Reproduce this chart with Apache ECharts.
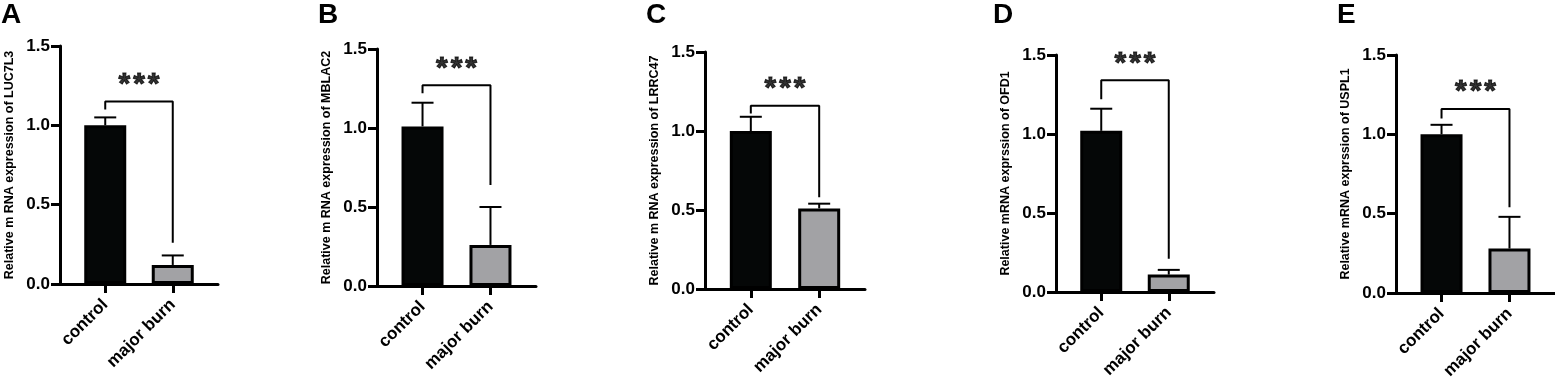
<!DOCTYPE html>
<html>
<head>
<meta charset="utf-8">
<script src="https://cdn.jsdelivr.net/npm/echarts@6/dist/echarts.min.js"></script>
<style>
  html, body { margin: 0; padding: 0; background: #fff; }
  #main { width: 1555px; height: 384px; }
</style>
</head>
<body>
<div id="main"></div>
<script>
// data
const panelLetters = ['A', 'B', 'C', 'D', 'E']
const yNames = [
  'Relative m RNA expression of LUC7L3',
  'Relative m RNA expression of MBLAC2',
  'Relative m RNA expression of LRRC47',
  'Relative mRNA exprssion of OFD1',
  'Relative mRNA exprssion of USPL1'
]
const categories = ['control', 'major burn']
const controlMean = [1.00, 1.01, 1.00, 1.02, 1.00]
const controlErr = [0.05, 0.15, 0.09, 0.14, 0.06]
const burnMean = [0.12, 0.26, 0.51, 0.11, 0.28]
const burnErr = [0.06, 0.24, 0.03, 0.03, 0.20]
const bracketTop = [1.15, 1.27, 1.16, 1.34, 1.16]
const bracketLeft = [1.10, 1.22, 1.11, 1.22, 1.10]
const bracketRight = [0.26, 0.64, 0.58, 0.21, 0.54]
const sigLabel = '***'
const yTicks = [0, 0.5, 1.0, 1.5]

// layout of each panel (px)
const grids = [
  { left: 60, top: 46, width: 158, height: 238, letterX: 1 },
  { left: 377, top: 49, width: 159, height: 237, letterX: 318 },
  { left: 705, top: 52, width: 160, height: 237, letterX: 646 },
  { left: 1056, top: 55, width: 158, height: 237, letterX: 993 },
  { left: 1396, top: 55, width: 159, height: 238, letterX: 1337 }
]

const font = 'Arial, "Liberation Sans", sans-serif'
const chart = echarts.init(document.getElementById('main'))

const option = {
  animation: false,
  title: [],
  grid: [],
  xAxis: [],
  yAxis: [],
  series: []
}

grids.forEach((g, i) => {
  option.title.push({
    text: panelLetters[i],
    left: g.letterX,
    top: 1,
    padding: 0,
    textStyle: { fontFamily: font, fontWeight: 'bold', fontSize: 28, color: '#000' }
  })
  option.grid.push({
    left: g.left, top: g.top, width: g.width, height: g.height,
    containLabel: false, outerBoundsMode: 'none'
  })
  option.xAxis.push({
    gridIndex: i,
    type: 'value',
    min: -0.67,
    max: 1.67,
    splitLine: { show: false },
    axisLine: { show: true, onZero: false, lineStyle: { color: '#000', width: 3 } },
    axisTick: { show: true, customValues: [0, 1], length: 9, lineStyle: { color: '#000', width: 3 } },
    axisLabel: {
      customValues: [0, 1],
      formatter: v => categories[Math.round(v)],
      rotate: 45,
      margin: 18,
      fontFamily: font, fontWeight: 'bold', fontSize: 17, color: '#000'
    }
  })
  option.yAxis.push({
    gridIndex: i,
    type: 'value',
    min: yTicks[0],
    max: yTicks[yTicks.length - 1],
    interval: 0.5,
    name: yNames[i],
    nameLocation: 'middle',
    nameGap: 44,
    nameTextStyle: { fontFamily: font, fontWeight: 'bold', fontSize: 12.5, color: '#000' },
    splitLine: { show: false },
    axisLine: { show: true, onZero: false, lineStyle: { color: '#000', width: 3 } },
    axisTick: { show: true, length: 9, lineStyle: { color: '#000', width: 3 } },
    axisLabel: {
      margin: 10,
      formatter: v => v.toFixed(1),
      fontFamily: font, fontWeight: 'bold', fontSize: 17, color: '#000'
    }
  })

  // bars
  option.series.push({
    type: 'bar',
    xAxisIndex: i, yAxisIndex: i,
    barWidth: 42,
    data: [
      { value: [0, controlMean[i]], itemStyle: { color: '#050707', borderColor: '#000', borderWidth: 3 } },
      { value: [1, burnMean[i]], itemStyle: { color: '#a2a2a5', borderColor: '#000', borderWidth: 3 } }
    ],
    z: 2
  })

  // upper error bars
  option.series.push({
    type: 'custom',
    xAxisIndex: i, yAxisIndex: i,
    data: [[0, controlMean[i], controlErr[i]], [1, burnMean[i], burnErr[i]]],
    renderItem: (params, api) => {
      const x = api.value(0)
      const m = api.value(1)
      const e = api.value(2)
      const p0 = api.coord([x, m])
      const p1 = api.coord([x, m + e])
      const st = { stroke: '#000', lineWidth: 2 }
      return {
        type: 'group',
        children: [
          { type: 'line', shape: { x1: p0[0], y1: p0[1], x2: p1[0], y2: p1[1] }, style: st },
          { type: 'line', shape: { x1: p1[0] - 11, y1: p1[1], x2: p1[0] + 11, y2: p1[1] }, style: st }
        ]
      }
    },
    z: 1
  })

  // significance bracket
  option.series.push({
    type: 'line',
    xAxisIndex: i, yAxisIndex: i,
    data: [[0, bracketLeft[i]], [0, bracketTop[i]], [1, bracketTop[i]], [1, bracketRight[i]]],
    symbol: 'none',
    lineStyle: { color: '#000', width: 2 },
    z: 3
  })

  // stars, each glyph spaced a little apart
  option.series.push({
    type: 'scatter',
    xAxisIndex: i, yAxisIndex: i,
    data: [[0.5, bracketTop[i]]],
    symbolSize: 0,
    label: {
      show: true,
      formatter: sigLabel.split('').map(c => '{s|' + c + '}').join(''),
      position: 'top',
      distance: 2,
      rich: {
        s: {
          fontFamily: font, fontWeight: 'bold', fontSize: 30, color: '#000',
          textBorderColor: '#000', textBorderWidth: 1, padding: [0, 1.5]
        }
      }
    },
    z: 4
  })
})

chart.setOption(option)
</script>
</body>
</html>
